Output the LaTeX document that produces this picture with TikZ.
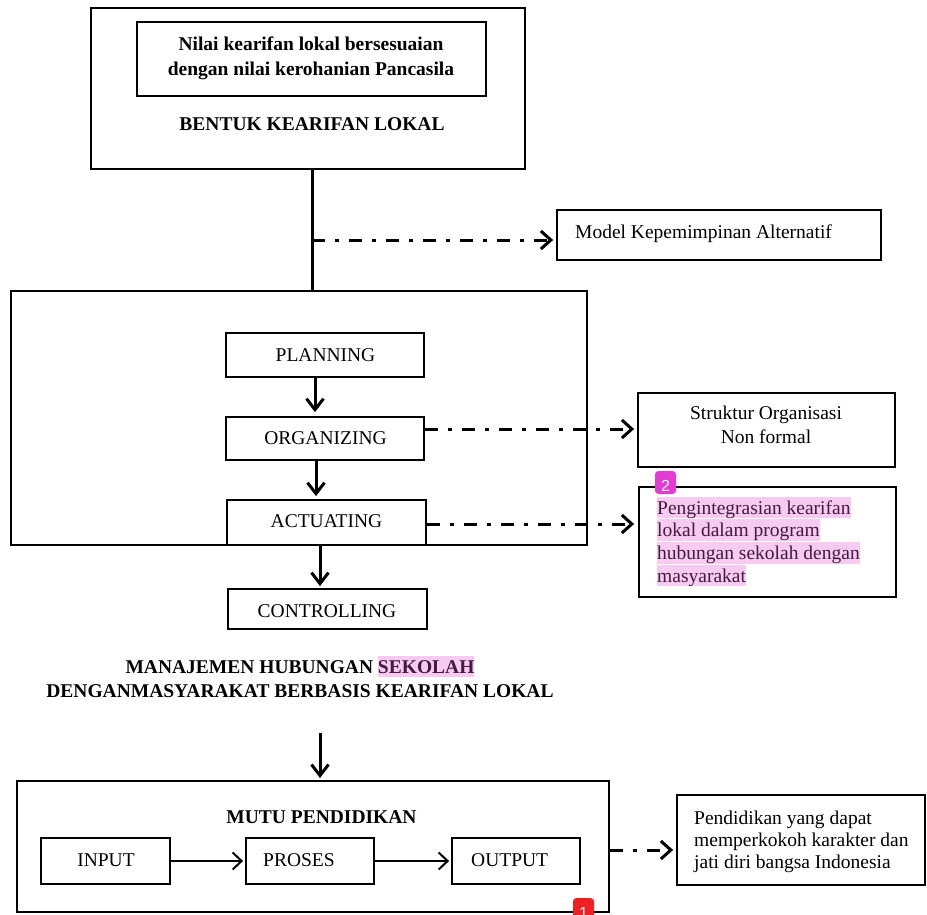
\documentclass[tikz,border=0pt]{standalone}
\usepackage{fontspec}
\setmainfont{Liberation Serif}
\newfontfamily\badgefont{Liberation Sans}
\usetikzlibrary{arrows.meta,calc}
\definecolor{hl}{RGB}{247,202,242}
\definecolor{hltext}{RGB}{70,25,65}
\definecolor{badgemag}{RGB}{227,60,213}
\definecolor{badgered}{RGB}{238,32,36}
\begin{document}
\begin{tikzpicture}[x=1pt,y=-1pt,
  txt/.style={font=\fontsize{19.5}{23}\selectfont, inner sep=0pt},
  btxt/.style={font=\fontsize{19.5}{23}\selectfont\bfseries, inner sep=0pt},
  frame/.style={draw, line width=2pt, inner sep=0pt},
  boxnode/.style={draw, line width=1.8pt, inner sep=0pt},
  hlline/.style={txt, fill=hl, text=hltext, text height=17.4pt, text depth=4.2pt, anchor=base west},
  stem/.style={line width=3pt},
  flow/.style={line width=3pt, -{Straight Barb[length=11pt,width=17pt]}},
  thinflow/.style={line width=2pt, -{Straight Barb[length=9pt,width=17pt]}},
  dashdot/.style={line width=3pt, dash pattern=on 13pt off 10pt on 4pt off 10pt,
                  -{Straight Barb[length=10pt,width=18pt]}},
  badge/.style={rounded corners=3.5pt, inner sep=0pt, minimum width=21pt, minimum height=23pt},
  badgetxt/.style={font=\badgefont\fontsize{16}{16}\selectfont, text=white, inner sep=0pt, anchor=base}
]
\useasboundingbox (0,0) rectangle (927,914);
\clip (0,0) rectangle (927,914);

% ---------- top block ----------
\node[frame, minimum width=434pt, minimum height=161pt] (top) at (308,88.5) {};
\node[boxnode, minimum width=349pt, minimum height=74pt] (inner) at (311.5,59) {};
\node[btxt, anchor=base] (in1) at (311,50) {Nilai kearifan lokal bersesuaian};
\node[btxt, anchor=base] (in2) at (311,75) {dengan nilai kerohanian Pancasila};
\node[btxt, anchor=base] (bentuk) at (312,130) {BENTUK KEARIFAN LOKAL};

% ---------- model ----------
\node[boxnode, minimum width=324pt, minimum height=50pt] (model) at (719,235) {};
\node[txt, anchor=base west] (modeltxt) at (575,238) {Model Kepemimpinan Alternatif};

% ---------- middle block ----------
\node[frame, minimum width=576pt, minimum height=254pt] (mid) at (299,418) {};
\node[boxnode, minimum width=198pt, minimum height=44pt] (planning) at (325,355) {};
\node[txt, anchor=base] (planningtxt) at (325.5,361) {PLANNING};
\node[boxnode, minimum width=198pt, minimum height=43pt] (organizing) at (325,438.5) {};
\node[txt, anchor=base] (organizingtxt) at (325.5,444) {ORGANIZING};
\node[boxnode, minimum width=199pt, minimum height=45pt] (actuating) at (326.5,522.5) {};
\node[txt, anchor=base] (actuatingtxt) at (326.5,527) {ACTUATING};
\node[boxnode, minimum width=199pt, minimum height=40pt] (controlling) at (327.5,609) {};
\node[txt, anchor=base] (controllingtxt) at (327,617) {CONTROLLING};

% ---------- right side boxes ----------
\node[boxnode, minimum width=257pt, minimum height=74pt] (struktur) at (766.5,430) {};
\node[txt, anchor=base] (s1) at (766,419.5) {Struktur Organisasi};
\node[txt, anchor=base] (s2) at (766,443) {Non formal};

\node[boxnode, minimum width=257pt, minimum height=110pt] (peng) at (767.5,542) {};
\node[hlline] (p1) at (657,514) {Pengintegrasian kearifan};
\node[hlline] (p2) at (657,536.5) {lokal dalam program};
\node[hlline] (p3) at (657,559.5) {hubungan sekolah dengan};
\node[hlline] (p4) at (657,582) {masyarakat};
\node[badge, fill=badgemag] (b2) at (665.5,482.5) {};
\node[badgetxt] (b2txt) at (665.5,491.5) {2};

% ---------- manajemen text ----------
\node[btxt, anchor=base] (m1) at (300,673) {MANAJEMEN HUBUNGAN {\setlength{\fboxsep}{0pt}\colorbox{hl}{\textcolor{hltext}{\rule[-4.2pt]{0pt}{21.6pt}SEKOLAH}}}};
\node[btxt, anchor=base] (m2) at (300,697) {DENGANMASYARAKAT BERBASIS KEARIFAN LOKAL};

% ---------- bottom block ----------
\node[frame, minimum width=592pt, minimum height=131pt] (mutu) at (313,846.5) {};
\node[btxt, anchor=base] (mututxt) at (321.5,823) {MUTU PENDIDIKAN};
\node[boxnode, minimum width=129pt, minimum height=46pt] (input) at (105.5,861) {};
\node[txt, anchor=base] (inputtxt) at (106,866) {INPUT};
\node[boxnode, minimum width=128pt, minimum height=46pt] (proses) at (310,861) {};
\node[txt, anchor=base west] (prosestxt) at (263,866) {PROSES};
\node[boxnode, minimum width=128pt, minimum height=46pt] (output) at (516,861) {};
\node[txt, anchor=base west] (outputtxt) at (471,866) {OUTPUT};

\node[boxnode, minimum width=248pt, minimum height=90pt] (right) at (801,840) {};
\node[txt, anchor=base west] (r1) at (694,824) {Pendidikan yang dapat};
\node[txt, anchor=base west] (r2) at (694,846) {memperkokoh karakter dan};
\node[txt, anchor=base west] (r3) at (694,868) {jati diri bangsa Indonesia};

\node[badge, fill=badgered] (b1) at (583.5,909.5) {};
\node[badgetxt] (b1txt) at (583.5,918.5) {1};

% ---------- connectors ----------
\coordinate (tap) at (312,240);
\draw[stem] (tap |- top.south) -- (tap |- mid.north);
\draw[dashdot, shorten >=3pt] (tap) -- (tap -| model.west);

\draw[flow, shorten >=4pt] ([xshift=-10pt]planning.south) -- ([xshift=-10pt]planning.south |- organizing.north);
\draw[flow, shorten >=3pt] ([xshift=-9pt]organizing.south) -- ([xshift=-9pt]organizing.south |- actuating.north);
\draw[flow, shorten >=2pt] ([xshift=-6.5pt]actuating.south) -- ([xshift=-6.5pt]actuating.south |- controlling.north);

\draw[dashdot, shorten >=3pt] ([yshift=9.5pt]organizing.east) -- ([yshift=9.5pt]organizing.east -| struktur.west);
\draw[dashdot, shorten >=4pt] ([yshift=-1.5pt]actuating.east) -- ([yshift=-1.5pt]actuating.east -| peng.west);

\coordinate (mstart) at (320,733);
\draw[flow, shorten >=2pt] (mstart) -- (mstart |- mutu.north);

\draw[thinflow, shorten >=2pt] (input.east) -- (proses.west);
\draw[thinflow, shorten >=2pt] (proses.east) -- (output.west);

\draw[dashdot, shorten >=3pt] ([yshift=-3.5pt]mutu.east) -- ([yshift=-3.5pt]mutu.east -| right.west);
\end{tikzpicture}
\end{document}
